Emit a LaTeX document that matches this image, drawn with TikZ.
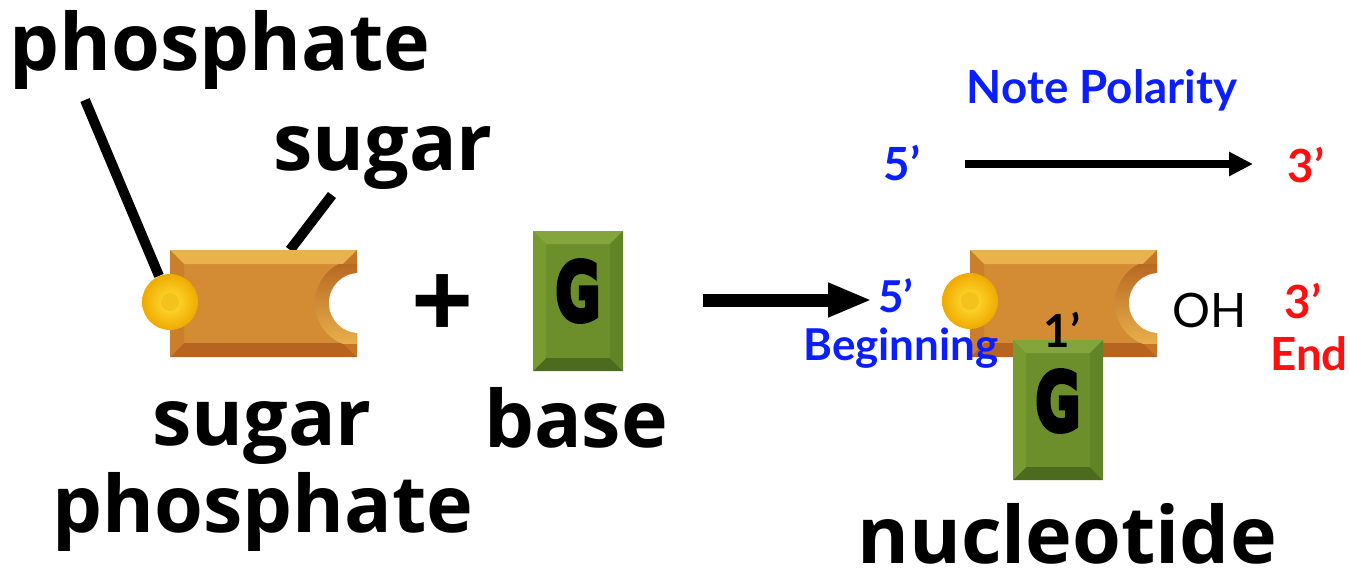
\documentclass[tikz,border=0pt]{standalone}
\usepackage{fontspec}
\usepackage{graphicx}
\setmainfont{Open Sans}
\newfontfamily\comicfont{Lato}
\newfontfamily\gfont[FakeBold=6]{DejaVu Sans Bold}
\usetikzlibrary{arrows.meta}
\definecolor{sugface}{HTML}{D38C34}
\definecolor{sugtop}{HTML}{E9B24E}
\definecolor{sugbot}{HTML}{B5651F}
\definecolor{sugleft}{HTML}{C97F2C}
\definecolor{sugright}{HTML}{C47727}
\definecolor{basface}{HTML}{6D8F2B}
\definecolor{bastop}{HTML}{83A53C}
\definecolor{basbot}{HTML}{4D6B1E}
\definecolor{basleft}{HTML}{789A31}
\definecolor{basright}{HTML}{618427}
\definecolor{ballin}{HTML}{FFE23A}
\definecolor{ballout}{HTML}{F0AA00}
\definecolor{balldot}{HTML}{F4C21C}
\definecolor{polblue}{HTML}{0A1EFF}
\definecolor{polred}{HTML}{FF1010}
\begin{document}
\begin{tikzpicture}[x=0.02cm, y=-0.02cm,
    big/.style={anchor=base, inner sep=0pt, font=\fontsize{45}{45}\selectfont\bfseries},
    small/.style={anchor=base, inner sep=0pt, font=\comicfont\fontsize{26}{26}\selectfont\bfseries, text=#1},
    small/.default=black,
    glet/.style={inner sep=0pt, font=\gfont\fontsize{46}{46}\selectfont},
    lead/.style={line width=5.7pt},
    ball/.style={circle, minimum size=1.12cm, inner sep=0pt, inner color=ballin, outer color=ballout},
    arr/.style={-{Triangle[length=25pt,width=18pt]}, line width=7.4pt},
    polarr/.style={-{Triangle[length=13.6pt,width=13pt]}, line width=5pt},
    sugarblk/.pic={
        \fill[sugface] (0,0) rectangle (187,107);
        \fill[sugtop] (0,0) -- (187,0) -- (173,14) -- (14,14) -- cycle;
        \fill[sugbot] (0,107) -- (187,107) -- (173,93) -- (14,93) -- cycle;
        \fill[sugleft] (0,0) -- (14,14) -- (14,93) -- (0,107) -- cycle;
        \fill[sugright] (187,0) -- (173,14) -- (173,93) -- (187,107) -- cycle;
        \begin{scope}
            \clip (14,14) rectangle (187,93);
            \shade[top color=sugbot, bottom color=sugtop] (189,53) circle (44);
        \end{scope}
        \fill[white] (189,53) circle (30);
    },
    baseblk/.pic={
        \fill[basface] (0,0) rectangle (90,140);
        \fill[bastop] (0,0) -- (90,0) -- (77,13) -- (13,13) -- cycle;
        \fill[basbot] (0,140) -- (90,140) -- (77,127) -- (13,127) -- cycle;
        \fill[basleft] (0,0) -- (13,13) -- (13,127) -- (0,140) -- cycle;
        \fill[basright] (90,0) -- (77,13) -- (77,127) -- (90,140) -- cycle;
    },
]
\useasboundingbox (0,0) rectangle (1349,583);

\node[big] (phosLbl) at (220,70) {phosphate};
\node[big] (sugLbl) at (383,170) {sugar};
\coordinate (phosTip) at (85,100);
\coordinate (sugTip) at (332,195);
\coordinate (sugEnd) at (290,250);
\draw[lead] (sugTip) -- (sugEnd);

\pic at (170,250) {sugarblk};
\node[ball] (phos1) at (170,302) {};
\fill[balldot] (phos1) circle (9);
\draw[lead] (phosTip) -- (phos1);
\node[big] (sugphLbl) at (262,445) {sugar};
\node[big] (sugphLbl2) at (263,532) {phosphate};

\node[inner sep=0pt, font=\fontsize{62}{62}\selectfont\bfseries] (plus) at (443,307) {+};

\pic at (533,231) {baseblk};
\node[glet] (g1) at (578,291) {\scalebox{0.68}[1]{G}};
\node[big] (baseLbl) at (576,447) {base};

\coordinate (arrA) at (703,300);
\coordinate (arrB) at (872,300);
\draw[arr] (arrA) -- (arrB);

\node[small=polblue] (noteLbl) at (1102,103) {Note Polarity};
\node[small=polblue] (p5top) at (902,180) {5’};
\node[small=polred] (p3top) at (1306,182) {3’};
\coordinate (polA) at (965,164);
\coordinate (polB) at (1253,164);
\draw[polarr] (polA) -- (polB);

\pic at (970,250) {sugarblk};
\node[ball] (phos2) at (970,301) {};
\fill[balldot] (phos2) circle (9);
\pic at (1013,340) {baseblk};
\node[glet] (g2) at (1058,401) {\scalebox{0.68}[1]{G}};
\node[small] (one) at (1062,347) {1’};
\node[small=polblue, font=\comicfont\fontsize{25}{25}\selectfont\bfseries] (p5nuc) at (896,312) {5’};
\node[small=polblue, font=\comicfont\fontsize{25}{25}\selectfont\bfseries] (begLbl) at (901,360) {Beginning};
\node[anchor=base, inner sep=0pt, font=\comicfont\fontsize{27}{27}\selectfont] (oh) at (1210,327) {OH};
\node[small=polred] (p3nuc) at (1303,318) {3’};
\node[small=polred] (endLbl) at (1309,370) {End};
\node[big] (nucLbl) at (1067,563) {nucleotide};
\end{tikzpicture}
\end{document}
